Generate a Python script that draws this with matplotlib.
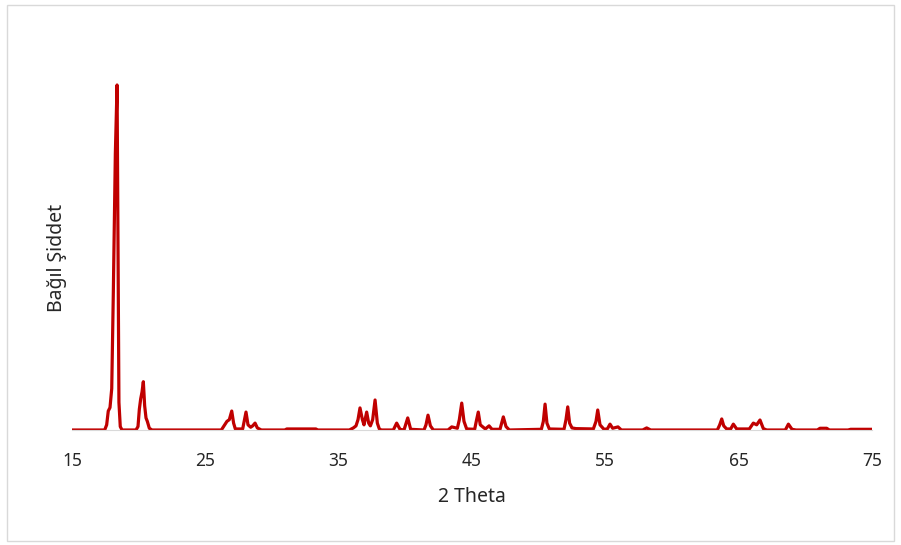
import matplotlib.pyplot as plt
from matplotlib.patches import Rectangle

# XRD pattern, relative intensity (%) vs 2-theta (deg)
two_theta = [
    15.0, 17.45, 17.6, 17.72, 17.85, 17.98, 18.1, 18.25, 18.38, 18.46, 18.52, 18.62, 18.75,
    19.8, 19.95, 20.05, 20.15, 20.25, 20.35, 20.45, 20.55, 20.65, 20.8, 21.0,
    26.2, 26.45, 26.62, 26.8, 26.98, 27.12, 27.25, 27.8, 28.05, 28.2, 28.4, 28.55, 28.73, 28.9, 29.2,
    31.0, 31.1, 33.3, 33.4,
    35.8, 36.1, 36.3, 36.45, 36.6, 36.78, 36.9, 37.1, 37.25, 37.38, 37.55, 37.73, 37.9, 38.05, 38.2,
    39.1, 39.35, 39.6, 39.9, 40.18, 40.4, 41.4, 41.55, 41.7, 41.88, 42.1,
    43.2, 43.48, 43.9, 44.05, 44.23, 44.4, 44.6, 45.2, 45.32, 45.47, 45.62, 46.0, 46.28, 46.5,
    47.1, 47.35, 47.55, 47.8,
    50.2, 50.35, 50.48, 50.62, 50.8, 51.9, 52.05, 52.18, 52.32, 52.5, 52.8,
    54.1, 54.3, 54.43, 54.6, 54.9, 55.15, 55.35, 55.55, 55.95, 56.2, 57.8, 58.1, 58.4,
    63.4, 63.58, 63.73, 63.88, 64.1, 64.4, 64.6, 64.85, 65.8, 66.1, 66.35, 66.6, 66.85, 67.1,
    68.5, 68.73, 69.0, 69.3, 70.9, 71.1, 71.6, 71.8, 73.2, 73.4, 75.0,
]
intensity = [
    0, 0, 1.5, 5.5, 6.5, 12, 40, 80, 100, 45, 8, 1, 0,
    0, 1, 6, 9, 11, 14, 7, 3.5, 2.5, 0.5, 0,
    0, 1.5, 2.5, 3, 5.5, 2, 0.3, 0.3, 5.2, 1.5, 0.8, 1.2, 2, 0.6, 0,
    0, 0.3, 0.3, 0,
    0, 0.6, 1.2, 3, 6.4, 3, 1.5, 5.2, 2, 1.2, 3, 8.7, 2, 0.3, 0,
    0, 2, 0.2, 0, 3.5, 0.2, 0, 1.5, 4.3, 1.2, 0,
    0, 0.9, 0.5, 3, 7.8, 2.5, 0.3, 0.2, 2.5, 5.2, 1.5, 0.3, 1.2, 0.2,
    0.2, 3.8, 1, 0,
    0.2, 2.5, 7.5, 2, 0.3, 0.2, 3, 6.7, 2, 0.6, 0.4,
    0.3, 2.5, 5.8, 1.5, 0.2, 0.3, 1.7, 0.5, 0.9, 0, 0, 0.6, 0,
    0, 1.5, 3.2, 1.2, 0.3, 0.3, 1.7, 0.3, 0.3, 2, 1.5, 2.9, 0.4, 0,
    0, 1.7, 0.2, 0, 0, 0.5, 0.5, 0, 0, 0.2, 0.2,
]
xticks = [15, 25, 35, 45, 55, 65, 75]

W, H = 901, 545
fig = plt.figure(figsize=(W / 100, H / 100), dpi=100)
plt.rcParams['font.family'] = ['Noto Sans', 'DejaVu Sans']

# thin frame round the chart
fig.patches.append(Rectangle((7 / W, 4 / H), 887 / W, 536 / H, transform=fig.transFigure,
                             fill=False, edgecolor='#d9d9d9', linewidth=1))

ax = fig.add_axes([72 / W, 1 - 430 / H, 800 / W, 379.5 / H])
ax.plot(two_theta, intensity, color='#c00000', linewidth=2.3, solid_joinstyle='round')

ax.set_xlim(15, 75)
ax.set_ylim(0, 110)
ax.set_xticks(xticks)
ax.set_yticks([])
ax.tick_params(axis='x', length=0, pad=16, labelsize=12.5, labelcolor='#262626')
for s in ['top', 'right', 'left']:
    ax.spines[s].set_visible(False)
ax.spines['bottom'].set_color('#d9d9d9')

ax.set_xlabel('2 Theta', fontsize=14, color='#262626', va='center')
ax.xaxis.set_label_coords(0.5, -67 / 379.5)
ax.set_ylabel('Bağıl Şiddet', fontsize=14, color='#262626', va='center')
ax.yaxis.set_label_coords(-15 / 800, 172 / 379.5)

fig.savefig('out.png', dpi=100)
